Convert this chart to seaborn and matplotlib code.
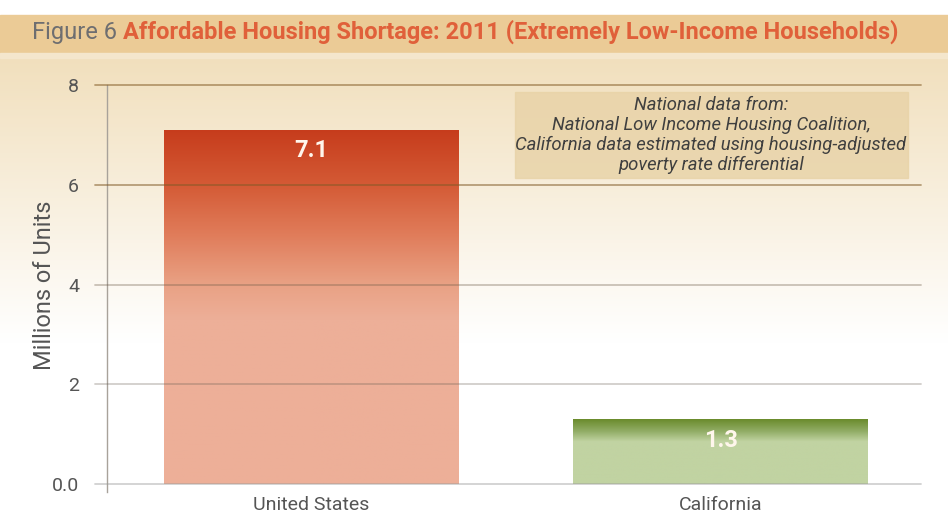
import numpy as np
import pandas as pd
import matplotlib
matplotlib.use("Agg")
import matplotlib.pyplot as plt
import seaborn as sns
from matplotlib.colors import LinearSegmentedColormap, to_rgb
from matplotlib.patches import Rectangle

# chart data
regions = ["United States", "California"]
shortage = [7.1, 1.3]
value_labels = ["7.1", "1.3"]
yticks = [0, 2, 4, 6, 8]
ytick_labels = ["0.0", "2", "4", "6", "8"]
title_prefix = "Figure 6 "
title_main = "Affordable Housing Shortage: 2011 (Extremely Low-Income Households)"
note = ("National data from:\nNational Low Income Housing Coalition,\n"
        "California data estimated using housing-adjusted\npoverty rate differential")

sns.set_theme(style="white")
narrow = ["Liberation Sans Narrow", "Roboto", "DejaVu Sans"]
plt.rcParams["font.family"] = narrow

W, H = 948, 519
fig = plt.figure(figsize=(W / 100, H / 100), dpi=100)
fig.patch.set_facecolor("white")

# parchment background
bg = fig.add_axes([0, 0, 1, 1], zorder=-10)
bg.set_xlim(0, W)
bg.set_ylim(H, 0)
bg.axis("off")
top_c = np.array(to_rgb("#F1DFBC"))
white = np.array([1.0, 1.0, 1.0])
t = np.clip(np.linspace(0, 1, 300) / 0.62, 0, 1)[:, None]
grad = (top_c * (1 - t) + white * t)[:, None, :]
bg.imshow(grad, extent=(0, W, H, 54), aspect="auto", zorder=0)
bg.add_patch(Rectangle((0, 15), W, 38, color="#EBCB96", zorder=1))
bg.add_patch(Rectangle((0, 53), W, 5, color="#F4E6CC", zorder=1))

# title
t1 = bg.text(32, 33, title_prefix, fontsize=17, color="#6E6E70", va="center", ha="left", zorder=5)
bg.annotate(title_main, xy=(1, 0), xycoords=t1, va="bottom", ha="left",
            fontsize=17, fontweight="bold", color="#E0603A", zorder=5)

# main axes
ax = fig.add_axes([107 / W, 27 / H, 818 / W, (492 - 85) / H])
ax.patch.set_alpha(0)
df = pd.DataFrame({"region": regions, "units": shortage})
sns.barplot(data=df, x="region", y="units", hue="region", palette=["#EDAF98", "#C1D3A2"],
            width=0.72, legend=False, ax=ax, zorder=2)
ax.set_xlim(-0.5, 1.5)
ax.set_ylim(-0.16, 8)

# gradient fills, stops as (height value, colour)
stops = {
    "United States": [(0, "#EDAF98"), (3.3, "#EDAF98"), (4.0, "#E9A184"), (5.0, "#E07C5A"),
                      (6.0, "#D45A35"), (7.1, "#C63C1C")],
    "California": [(0, "#C1D3A2"), (0.85, "#C1D3A2"), (1.05, "#93AE68"), (1.3, "#6A8B2C")],
}
bars = sorted(ax.patches, key=lambda p: p.get_x())
for name, bar in zip(regions, bars):
    h = bar.get_height()
    cmap = LinearSegmentedColormap.from_list(name, [(v / h, c) for v, c in stops[name]])
    img = ax.imshow(np.linspace(1, 0, 256)[:, None], cmap=cmap, vmin=0, vmax=1, aspect="auto",
                    extent=(bar.get_x(), bar.get_x() + bar.get_width(), 0, h), zorder=3)
    img.set_clip_path(bar)
    bar.set_edgecolor("none")
ax.set_xlim(-0.5, 1.5)
ax.set_ylim(-0.16, 8)

# grid lines drawn over bars, extended left as ticks
grid_colors = [(0.6, 0.6, 0.6, 0.45), (0.4, 0.36, 0.32, 0.3), (0.42, 0.35, 0.27, 0.35),
               (0.5, 0.35, 0.15, 0.55), (0.55, 0.4, 0.2, 0.6)]
for y, c in zip(yticks, grid_colors):
    ax.axhline(y, xmin=-0.015, xmax=0.995, color=c, lw=1.3, clip_on=False, zorder=4)

for i, (v, lab) in enumerate(zip(shortage, value_labels)):
    ax.text(i, v - 0.42, lab, ha="center", va="center", color="#FFF6EC",
            fontsize=17, fontweight="bold", zorder=5)

ax.set_yticks(yticks)
ax.set_yticklabels(ytick_labels)
ax.tick_params(axis="y", length=0, pad=20, labelsize=14, labelcolor="#555555")
ax.tick_params(axis="x", length=0, pad=3, labelsize=14, labelcolor="#555555")
ax.set_xlabel("")
ax.set_ylabel("")
for s in ["top", "right", "bottom"]:
    ax.spines[s].set_visible(False)
ax.spines["left"].set_color("#A8A29A")
ax.spines["left"].set_linewidth(1.0)

fig.text(45 / W, 1 - 285 / H, "Millions of Units", rotation=90, ha="center", va="center",
         fontsize=17, color="#555555")

# source note box
bg.add_patch(Rectangle((515, 92), 393, 86, color="#E8D2A6", alpha=0.8, zorder=6))
bg.text(711, 135, note, ha="center", va="center", fontsize=13.3, style="italic",
        color="#3F3F3F", linespacing=1.12, zorder=7)

fig.savefig("out.png", dpi=100)
